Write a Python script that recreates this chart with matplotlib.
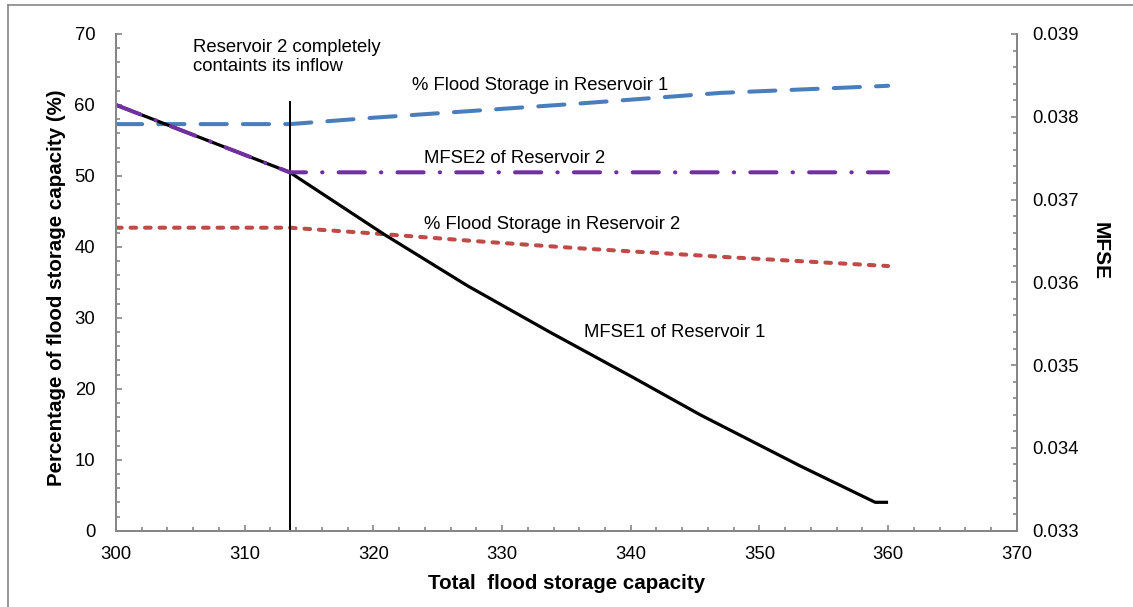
import matplotlib
matplotlib.use("Agg")
import matplotlib.pyplot as plt
from matplotlib.lines import Line2D
from matplotlib.ticker import MultipleLocator, FormatStrFormatter

plt.rcParams['font.family'] = ['Liberation Sans', 'DejaVu Sans']

# ---------------- data ----------------
x_res1 = [300, 313.5, 320, 328, 336, 347, 360]
pct_res1 = [57.3, 57.3, 58.2, 59.2, 60.2, 61.7, 62.7]

x_res2 = [300, 313.5, 320, 328, 336, 348, 360]
pct_res2 = [42.7, 42.7, 41.9, 40.8, 39.8, 38.5, 37.3]

x_mfse1 = [300, 313.5, 320.8, 327.3, 333.7, 340.2, 345.4, 353.2, 359, 360]
mfse1 = [0.038143, 0.037329, 0.036583, 0.035960, 0.035400, 0.034850, 0.034400, 0.033780, 0.033343, 0.033343]

x_mfse2 = [300, 313.5, 360]
mfse2 = [0.038143, 0.037329, 0.037329]

x_full = [313.5, 313.5]      # reservoir 2 completely contains its inflow
y_full = [0, 60.4]

gray = '#868686'

fig = plt.figure(figsize=(11.33, 6.07), dpi=100)
ax = fig.add_axes([0.1024, 0.1257, 0.795, 0.8183])
ax2 = ax.twinx()

l1, = ax.plot(x_res1, pct_res1, color='#4a7ebb', lw=2.9, dash_capstyle='round')
l1.set_dashes((6.5, 4))
l2, = ax.plot(x_res2, pct_res2, color='#be4b48', lw=2.9, dash_capstyle='round')
l2.set_dashes((1.4, 2.2))
ax.plot(x_full, y_full, color='black', lw=1.4, zorder=5)

ax2.plot(x_mfse1, mfse1, color='black', lw=2.3, solid_capstyle='butt', solid_joinstyle='round')
l4, = ax2.plot(x_mfse2, mfse2, color='#7030a0', lw=2.9, dash_capstyle='round')
l4.set_dashes((6.5, 4, 0.1, 4))

ax.set_xlim(300, 370)
ax.set_ylim(0, 70)
ax2.set_ylim(0.033, 0.039)
ax.xaxis.set_major_locator(MultipleLocator(10))
ax.xaxis.set_minor_locator(MultipleLocator(2))
ax.yaxis.set_major_locator(MultipleLocator(10))
ax.yaxis.set_minor_locator(MultipleLocator(2))
ax2.yaxis.set_major_locator(MultipleLocator(0.001))
ax2.yaxis.set_minor_locator(MultipleLocator(0.0002))
ax2.yaxis.set_major_formatter(FormatStrFormatter('%.3f'))

for a in (ax, ax2):
    for s in a.spines.values():
        s.set_color(gray)
        s.set_linewidth(1.4)
    a.spines['top'].set_visible(False)
    a.tick_params(which='both', direction='in', color=gray, width=1.2, labelsize=13.3)
    a.tick_params(which='major', length=4)
    a.tick_params(which='minor', length=3)
ax.tick_params(axis='y', pad=15)
ax.tick_params(axis='x', pad=11, top=False)
ax2.tick_params(axis='y', pad=11)

ax.set_xlabel('Total  flood storage capacity', fontsize=14.8, fontweight='bold', labelpad=8)
fig.text(57 / 1133, 1 - 288 / 607, 'Percentage of flood storage capacity (%)', rotation=90,
         fontsize=14.8, fontweight='bold', ha='center', va='center')
fig.text(1100 / 1133, 1 - 251 / 607, 'MFSE', rotation=-90, fontsize=15, fontweight='bold',
         ha='center', va='center')

ax.text(306.0, 66.7, 'Reservoir 2 completely\ncontaints its inflow', fontsize=13.3, va='center',
        linespacing=1.15)
ax.text(323.0, 62.7, '% Flood Storage in Reservoir 1', fontsize=13.3, va='center')
ax.text(323.9, 52.5, 'MFSE2 of Reservoir 2', fontsize=13.3, va='center')
ax.text(323.9, 43.1, '% Flood Storage in Reservoir 2', fontsize=13.3, va='center')
ax.text(336.4, 27.9, 'MFSE1 of Reservoir 1', fontsize=13.3, va='center')

# outer chart frame (only top and left edges visible in the crop)
fig.add_artist(Line2D([8 / 1133, 8 / 1133], [0, 1 - 5 / 607], transform=fig.transFigure, color=gray, lw=1.2))
fig.add_artist(Line2D([8 / 1133, 1], [1 - 5 / 607, 1 - 5 / 607], transform=fig.transFigure, color=gray, lw=1.2))

fig.savefig('out.png', dpi=100)
